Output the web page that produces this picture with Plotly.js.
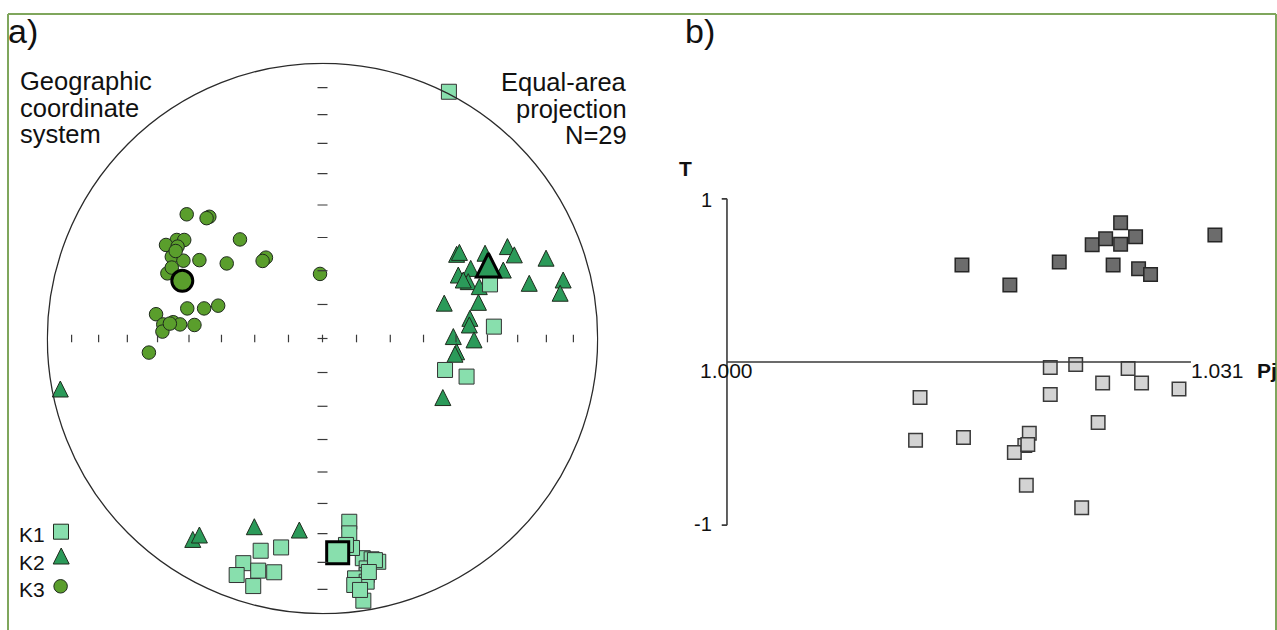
<!DOCTYPE html>
<html>
<head>
<meta charset="utf-8">
<script src="https://cdn.plot.ly/plotly-3.0.1.min.js"></script>
<style>
html,body{margin:0;padding:0;background:#ffffff;}
#chart{width:1277px;height:630px;}
</style>
</head>
<body>
<div id="chart"></div>
<script>
// ---------- Panel a) : equal-area net, projected positions (east, north), net radius = 1 ----------
const k1East  = [0.458, 0.607, 0.621, 0.444, 0.522, -0.224, -0.150, -0.287, -0.311, -0.233, -0.175, -0.251,
                 0.097, 0.097, 0.097, 0.146, 0.178, 0.202, 0.160, 0.160, 0.118, 0.160, 0.115, 0.148,
                 0.190, 0.168, 0.136, 0.107, 0.085];
const k1North = [0.894, 0.196, 0.043, -0.114, -0.138, -0.769, -0.757, -0.814, -0.857, -0.841, -0.847, -0.897,
                 -0.664, -0.706, -0.759, -0.796, -0.800, -0.809, -0.833, -0.857, -0.869, -0.881, -0.893, -0.950,
                 -0.803, -0.846, -0.911, -0.759, -0.748];

const k2East  = [0.486, 0.496, 0.589, 0.670, 0.695, 0.810, 0.537, 0.492, 0.528, 0.655, 0.568, 0.749,
                 0.872, 0.861, 0.441, 0.565, 0.534, 0.532, 0.474, 0.549, 0.486, 0.480, 0.436,
                 -0.470, -0.446, -0.247, -0.084, -0.950, 0.510];
const k2North = [0.305, 0.312, 0.309, 0.333, 0.303, 0.291, 0.254, 0.230, 0.206, 0.248, 0.188, 0.200,
                 0.212, 0.164, 0.128, 0.131, 0.073, 0.049, 0.007, -0.005, -0.048, -0.057, -0.214,
                 -0.728, -0.712, -0.682, -0.694, -0.183, 0.212];

const k3East  = [-0.492, -0.410, -0.420, -0.528, -0.501, -0.567, -0.525, -0.299, -0.546, -0.504, -0.446, -0.347,
                 -0.205, -0.217, -0.562, -0.546, -0.009, -0.603, -0.490, -0.429, -0.378, -0.577, -0.541,
                 -0.516, -0.464, -0.580, -0.629, -0.532, -0.553];
const k3North = [0.450, 0.441, 0.436, 0.357, 0.357, 0.339, 0.333, 0.359, 0.296, 0.282, 0.284, 0.272,
                 0.293, 0.281, 0.236, 0.257, 0.234, 0.088, 0.109, 0.109, 0.119, 0.051, 0.059,
                 0.051, 0.049, 0.025, -0.051, 0.317, 0.054];

// mean directions K1, K2, K3
const meanEast  = [0.055, 0.601, -0.508];
const meanNorth = [-0.776, 0.266, 0.209];

const netTickPlunges = [10, 20, 30, 40, 50, 60, 70, 80];
const seriesNames = ['K1', 'K2', 'K3'];
const cardinalLabels = ['N', 'E', 'S', 'W'];

// ---------- Panel b) : Pj - T plot ----------
const pjOblate  = [1.0157, 1.0189, 1.0222, 1.0244, 1.0253, 1.0263, 1.0263, 1.0273, 1.0258, 1.0275, 1.0283, 1.0326];
const tOblate   = [0.595, 0.472, 0.613, 0.718, 0.755, 0.853, 0.721, 0.767, 0.595, 0.571, 0.537, 0.779];
const pjProlate = [1.0216, 1.0233, 1.0268, 1.0251, 1.0277, 1.0302, 1.0129, 1.0216, 1.0248, 1.0126, 1.0158,
                   1.0202, 1.0199, 1.0192, 1.0200, 1.0237, 1.0201];
const tProlate  = [-0.034, -0.015, -0.040, -0.129, -0.129, -0.166, -0.218, -0.199, -0.371, -0.479, -0.463,
                   -0.436, -0.512, -0.555, -0.755, -0.893, -0.505];
const pjTickValues = [1.000, 1.031];
const pjTickLabels = ['1.000', '1.031'];
const tTickValues = [1, -1];
const tTickLabels = ['1', '-1'];

// ---------- layout helpers ----------
const FONT = 'Liberation Sans, Arial, Helvetica, sans-serif';
const W = 1277, H = 630;
const px = v => v / W;
const py = v => 1 - v / H;
const TXT = '#111111';

const net = {cx: 322.5, cy: 338.5, r: 276};
const toNetX = p => (p - net.cx) / net.r;
const toNetY = p => (net.cy - p) / net.r;
const eqArea = pl => Math.SQRT2 * Math.sin((90 - pl) / 2 * Math.PI / 180);

const COL_K1 = '#88dfad', COL_K2 = '#2b9a59', COL_K3 = '#5a9e2c';
const OUT = '#1f2a1d';

const shapes = [];
// green frame
const frameCol = '#7fa65c';
shapes.push({type: 'line', xref: 'paper', yref: 'paper', x0: px(8), x1: px(1276), y0: py(14), y1: py(14), line: {color: frameCol, width: 2}});
shapes.push({type: 'line', xref: 'paper', yref: 'paper', x0: px(8), x1: px(8), y0: py(14), y1: 0, line: {color: frameCol, width: 2}});
shapes.push({type: 'line', xref: 'paper', yref: 'paper', x0: px(1276), x1: px(1276), y0: py(14), y1: 0, line: {color: frameCol, width: 2}});

// primitive circle
shapes.push({type: 'circle', xref: 'x', yref: 'y', x0: -0.997, x1: 0.997, y0: -0.997, y1: 0.997, line: {color: '#2b2b2b', width: 1.3}});
// ticks
const th = 3.8 / net.r, tw = 5 / net.r;
const tickLine = {color: '#3a3a3a', width: 1.2};
netTickPlunges.forEach(pl => {
  const r = eqArea(pl);
  [1, -1].forEach(s => {
    shapes.push({type: 'line', xref: 'x', yref: 'y', x0: s * r, x1: s * r, y0: -th, y1: th, line: tickLine});
    shapes.push({type: 'line', xref: 'x', yref: 'y', x0: -tw, x1: tw, y0: s * r, y1: s * r, line: tickLine});
  });
});
shapes.push({type: 'line', xref: 'x', yref: 'y', x0: -tw, x1: tw, y0: 0, y1: 0, line: tickLine});
shapes.push({type: 'line', xref: 'x', yref: 'y', x0: 0, x1: 0, y0: -th, y1: th, line: tickLine});

// Pj-T axes
const axCol = '#3a3a3a';
shapes.push({type: 'line', xref: 'x2', yref: 'y2', x0: pjTickValues[0], x1: pjTickValues[0], y0: tTickValues[1], y1: tTickValues[0], line: {color: axCol, width: 1.6}});
shapes.push({type: 'line', xref: 'x2', yref: 'y2', x0: pjTickValues[0], x1: pjTickValues[1], y0: 0, y1: 0, line: {color: axCol, width: 1.6}});
tTickValues.forEach(t => {
  shapes.push({type: 'line', xref: 'x2', yref: 'y2', x0: pjTickValues[0] - 0.00035, x1: pjTickValues[0], y0: t, y1: t, line: {color: axCol, width: 1.6}});
});

// annotations
const ann = [];
function addText(text, x, y, size, anchor, bold, xref, yref) {
  ann.push({text: bold ? '<b>' + text + '</b>' : text, x: x, y: y, xref: xref || 'paper', yref: yref || 'paper',
    xanchor: anchor || 'center', yanchor: 'middle', showarrow: false, borderpad: 0, borderwidth: 0,
    font: {family: FONT, size: size, color: TXT}});
}
addText('a)', px(8), py(31), 34, 'left');
addText('b)', px(685), py(31), 34, 'left');
['Geographic', 'coordinate', 'system'].forEach((t, i) => addText(t, px(20), py(81.5 + i * 26), 25.5, 'left'));
['Equal-area', 'projection', 'N=29'].forEach((t, i) => addText(t, px(627), py(82 + i * 26.5), 25.5, 'right'));
// cardinal labels
addText(cardinalLabels[0], 0, toNetY(48.5), 22, 'center', false, 'x', 'y');
addText(cardinalLabels[1], toNetX(613), toNetY(339.5), 22, 'center', false, 'x', 'y');
addText(cardinalLabels[2], 0, toNetY(626.5), 22, 'center', false, 'x', 'y');
addText(cardinalLabels[3], toNetX(30.6), toNetY(339.5), 22, 'center', false, 'x', 'y');
// legend labels
const legendY = [534.2, 562.5, 589.2];
seriesNames.forEach((n, i) => addText(n, px(19), py(legendY[i]), 21, 'left'));
// Pj-T labels
addText('T', px(685.7), py(169), 21, 'center', true);
addText('Pj', px(1257), py(370), 21, 'left', true);
addText(tTickLabels[0], px(712), py(199.5), 20, 'right');
addText(tTickLabels[1], px(712), py(524), 20, 'right');
addText(pjTickLabels[0], pjTickValues[0], py(370.5), 21, 'center', false, 'x2', 'paper');
addText(pjTickLabels[1], pjTickValues[1], py(370.5), 21, 'left', false, 'x2', 'paper');

// traces
const traces = [];
function pts(x, y, kind, size, color, lineCol, lineW, xa, ya) {
  const m = {size: size, opacity: 1, color: color, line: {color: lineCol, width: lineW}};
  if (kind === 'tri') {
    // upright triangle centred on the point (height = width = size)
    m.symbol = 'arrow-down'; m.angle = 180; m.standoff = size / 2;
  } else {
    m.symbol = kind;
  }
  traces.push({type: 'scatter', mode: 'markers', x: x, y: y, xaxis: xa || 'x', yaxis: ya || 'y', cliponaxis: false,
    marker: m, hoverinfo: 'skip'});
}
pts(k3East, k3North, 'circle', 13.5, COL_K3, OUT, 1);
pts(k2East, k2North, 'tri', 16, COL_K2, OUT, 1);
pts(k1East, k1North, 'square', 15, COL_K1, '#333333', 1);
// mean directions (bold outline)
const KINDS = ['square', 'tri', 'circle'];
const COLS = [COL_K1, COL_K2, COL_K3];
const meanSizes = [22, 24, 21];
meanEast.forEach((e, i) => pts([e], [meanNorth[i]], KINDS[i], meanSizes[i], COLS[i], '#000000', 3));
// legend keys (layout positions)
const legendKeyX = [61, 61.2, 60.6], legendKeyY = [531.7, 556, 586.3], legendKeySize = [15, 16, 13.5];
KINDS.forEach((k, i) => pts([toNetX(legendKeyX[i])], [toNetY(legendKeyY[i])], k, legendKeySize[i], COLS[i], OUT, 1));
// Pj-T points
pts(pjOblate, tOblate, 'square', 13.5, '#6c6c6c', '#262626', 1.5, 'x2', 'y2');
pts(pjProlate, tProlate, 'square', 13.5, '#d3d3d3', '#3a3a3a', 1.5, 'x2', 'y2');

const hidden = {visible: false, showgrid: false, zeroline: false, fixedrange: true};
const layout = {
  width: W, height: H,
  margin: {l: 0, r: 0, t: 0, b: 0, pad: 0},
  paper_bgcolor: '#ffffff', plot_bgcolor: 'rgba(0,0,0,0)',
  showlegend: false,
  xaxis: Object.assign({domain: [(net.cx - net.r) / W, (net.cx + net.r) / W], range: [-1, 1], anchor: 'y'}, hidden),
  yaxis: Object.assign({domain: [(H - net.cy - net.r) / H, (H - net.cy + net.r) / H], range: [-1, 1], anchor: 'x'}, hidden),
  xaxis2: Object.assign({domain: [667.1 / W, 1265.8 / W], range: [0.996, 1.036], anchor: 'y2'}, hidden),
  yaxis2: Object.assign({domain: [(H - 557.8) / H, (H - 166.2) / H], range: [-1.2, 1.2], anchor: 'x2'}, hidden),
  shapes: shapes,
  annotations: ann,
  font: {family: FONT, color: TXT}
};

Plotly.newPlot('chart', traces, layout, {displayModeBar: false, staticPlot: true});
</script>
</body>
</html>
